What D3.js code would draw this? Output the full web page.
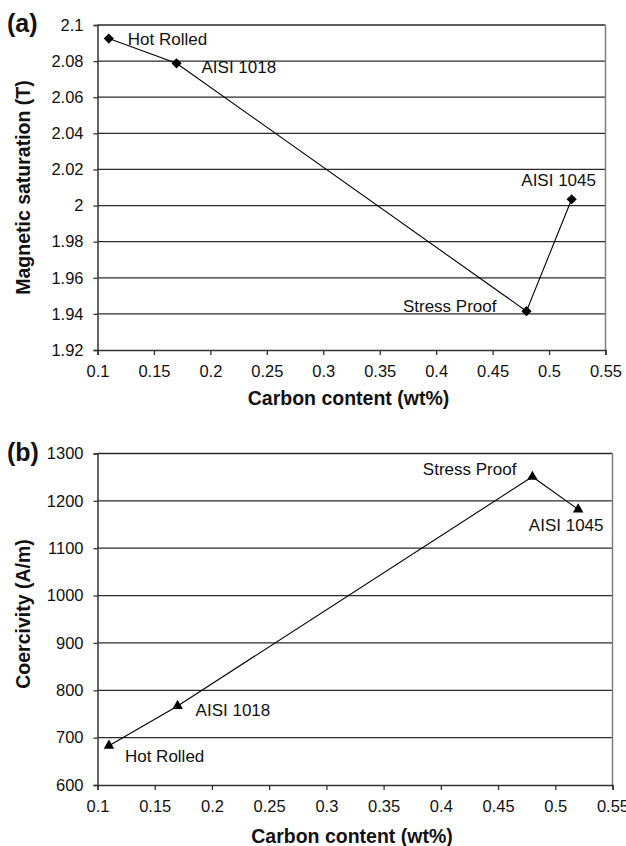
<!DOCTYPE html>
<html>
<head>
<meta charset="utf-8">
<script src="https://cdn.jsdelivr.net/npm/d3@7"></script>
<style>
  html, body { margin: 0; padding: 0; background: #fff; }
  svg { display: block; font-family: "Liberation Sans", Arial, Helvetica, sans-serif; }
</style>
</head>
<body>
<svg id="chart" width="626" height="846"></svg>
<script>
// Steel grades and their measured properties
const grades = ["Hot Rolled", "AISI 1018", "Stress Proof", "AISI 1045"];
const carbon = [0.11, 0.17, 0.48, 0.52];
const saturation = [2.0925, 2.0788, 1.9415, 2.0035];
const coercivity = [683, 767, 1251, 1182];

// Axis tick values
const xTicks = [0.1, 0.15, 0.2, 0.25, 0.3, 0.35, 0.4, 0.45, 0.5, 0.55];
const satTicks = [1.92, 1.94, 1.96, 1.98, 2, 2.02, 2.04, 2.06, 2.08, 2.1];
const coerTicks = [600, 700, 800, 900, 1000, 1100, 1200, 1300];

const svg = d3.select("#chart");

function drawPanel(cfg) {
  const { left, right, top, bottom } = cfg;
  const x = d3.scaleLinear().domain([0.1, 0.55]).range([left, right]);
  const y = d3.scaleLinear().domain(cfg.yDomain).range([bottom, top]);
  const g = svg.append("g");

  // horizontal gridlines
  g.append("g").selectAll("line")
    .data(cfg.yTicks.slice(1))
    .join("line")
    .attr("x1", left).attr("x2", right)
    .attr("y1", d => y(d)).attr("y2", d => y(d))
    .attr("stroke", "#2a2a2a").attr("stroke-width", 1.3);

  // right frame edge
  g.append("line")
    .attr("x1", right).attr("x2", right).attr("y1", top).attr("y2", bottom)
    .attr("stroke", "#808080").attr("stroke-width", 1.5);

  // y axis
  const yAxis = g.append("g")
    .attr("transform", `translate(${left},0)`)
    .call(d3.axisLeft(y).tickValues(cfg.yTicks).tickSize(4).tickPadding(10)
      .tickFormat(cfg.yFormat));
  yAxis.select(".domain").attr("stroke", "#333").attr("stroke-width", 1.5);
  yAxis.selectAll(".tick line").attr("stroke", "#333").attr("stroke-width", 1.3);
  yAxis.selectAll(".tick text")
    .attr("font-size", 16.5).attr("fill", "#111")
    .attr("font-family", "Liberation Sans, Arial, sans-serif");

  // x axis
  const xAxis = g.append("g")
    .attr("transform", `translate(0,${bottom})`)
    .call(d3.axisBottom(x).tickValues(xTicks).tickSize(5).tickPadding(10)
      .tickFormat(d3.format("")));
  xAxis.select(".domain").attr("stroke", "#333").attr("stroke-width", 1.5);
  xAxis.selectAll(".tick line").attr("stroke", "#333").attr("stroke-width", 1.3);
  xAxis.selectAll(".tick text")
    .attr("font-size", 16.5).attr("fill", "#111")
    .attr("font-family", "Liberation Sans, Arial, sans-serif");

  // series line
  const pts = carbon.map((c, i) => [c, cfg.values[i]]);
  g.append("path")
    .datum(pts)
    .attr("fill", "none").attr("stroke", "#000").attr("stroke-width", 1.1)
    .attr("d", d3.line().x(d => x(d[0])).y(d => y(d[1])));

  // markers
  g.append("g").selectAll("path")
    .data(pts)
    .join("path")
    .attr("d", cfg.symbol)
    .attr("transform", d => `translate(${x(d[0])},${y(d[1])})${cfg.symbolRotate}`)
    .attr("fill", "#000");

  // point labels
  g.append("g").selectAll("text")
    .data(pts)
    .join("text")
    .attr("x", (d, i) => x(d[0]) + cfg.labelOffsets[i][0])
    .attr("y", (d, i) => y(d[1]) + cfg.labelOffsets[i][1])
    .attr("dy", "0.36em")
    .attr("text-anchor", (d, i) => cfg.labelOffsets[i][2])
    .attr("font-size", 17).attr("fill", "#111")
    .text((d, i) => grades[i]);

  // axis titles
  g.append("text")
    .attr("x", (left + right) / 2 - 3).attr("y", cfg.xTitleY)
    .attr("text-anchor", "middle").attr("font-weight", "bold")
    .attr("font-size", 19.5).attr("fill", "#111")
    .text("Carbon content (wt%)");
  g.append("text")
    .attr("transform", `translate(${cfg.yTitleX},${cfg.yTitleMid}) rotate(-90)`)
    .attr("text-anchor", "middle").attr("font-weight", "bold")
    .attr("font-size", 19.5).attr("fill", "#111")
    .text(cfg.yTitle);

  // panel letter
  svg.append("text")
    .attr("x", 7).attr("y", cfg.letterY)
    .attr("font-weight", "bold").attr("font-size", 25).attr("fill", "#111")
    .text(cfg.letter);
}

drawPanel({
  left: 97.5, right: 605.5, top: 25, bottom: 350,
  yDomain: [1.92, 2.1], yTicks: satTicks, values: saturation,
  yFormat: d3.format(""),
  symbol: d3.symbol().type(d3.symbolSquare).size(52)(),
  symbolRotate: " rotate(45)",
  labelOffsets: [[19, 0, "start"], [25, 4, "start"], [-30, -5, "end"], [-13, -19, "middle"]],
  xTitleY: 405, yTitle: "Magnetic saturation (T)", yTitleX: 30, yTitleMid: 187.5,
  letter: "(a)", letterY: 32
});

drawPanel({
  left: 97.5, right: 612.5, top: 453.5, bottom: 785,
  yDomain: [600, 1300], yTicks: coerTicks, values: coercivity,
  yFormat: d3.format("d"),
  symbol: d3.symbol().type(d3.symbolTriangle).size(48)(),
  symbolRotate: "",
  labelOffsets: [[16, 10, "start"], [18, 4, "start"], [-16, -8, "end"], [-12, 15, "middle"]],
  xTitleY: 843, yTitle: "Coercivity (A/m)", yTitleX: 30, yTitleMid: 614,
  letter: "(b)", letterY: 461
});
</script>
</body>
</html>
